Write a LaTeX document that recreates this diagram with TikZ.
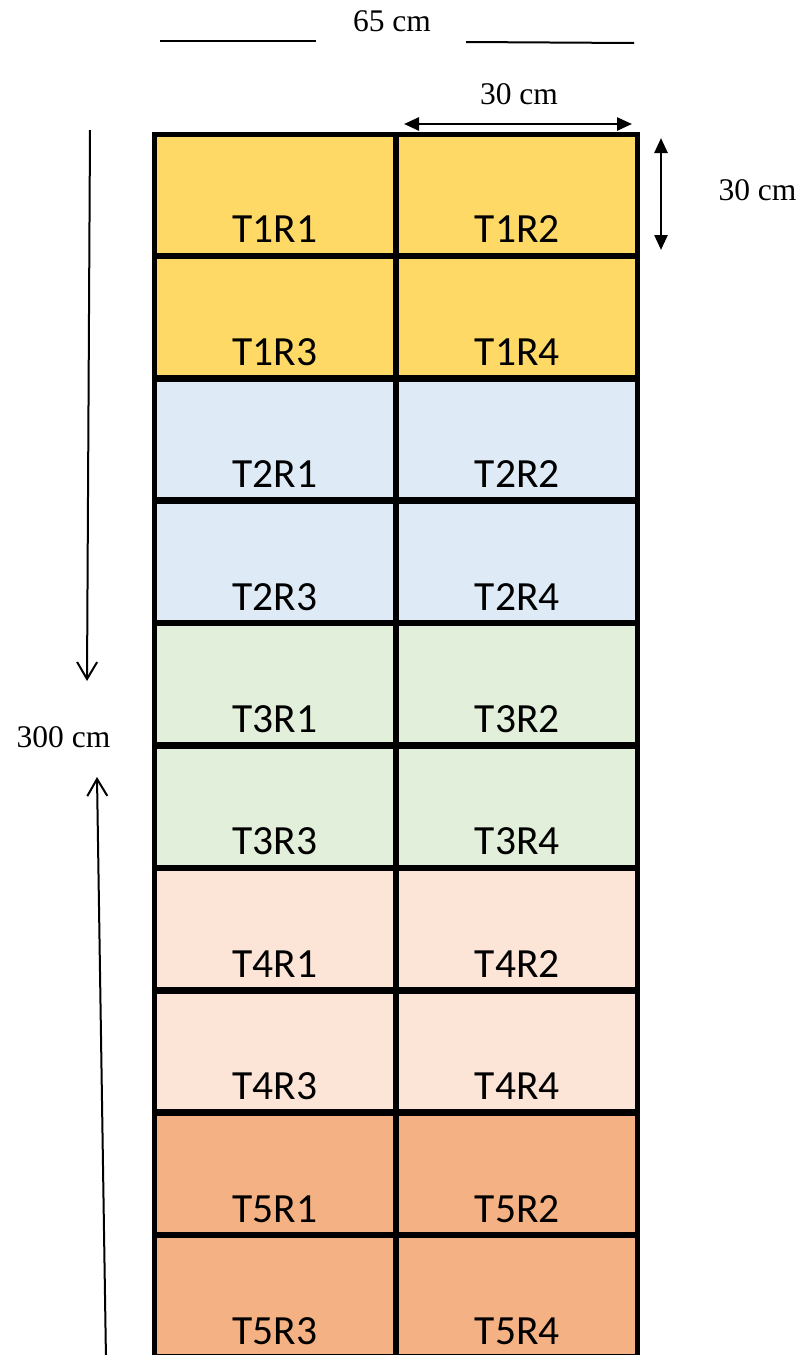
\documentclass[tikz,border=0pt]{standalone}
\usepackage{fontspec}
\setmainfont{Liberation Serif}
\newfontfamily\cellfont{Carlito}
\usetikzlibrary{arrows.meta}
\definecolor{tc1}{HTML}{FFD966}
\definecolor{tc2}{HTML}{DEEBF7}
\definecolor{tc3}{HTML}{E2EFDA}
\definecolor{tc4}{HTML}{FCE4D6}
\definecolor{tc5}{HTML}{F4B183}
\tikzset{
  cellbox/.style={draw=black, line width=5pt, minimum width=241pt, minimum height=120.9pt, inner sep=0pt, outer sep=0pt},
  celltext/.style={font=\cellfont\fontsize{41.5}{41.5}\selectfont, anchor=base, inner sep=0pt},
  dimtext/.style={font=\fontsize{31.5}{31.5}\selectfont, anchor=base, inner sep=0pt},
  dimline/.style={line width=2pt},
  dimarrow/.style={line width=2.5pt, {Triangle[length=15pt,width=13pt]}-{Triangle[length=15pt,width=13pt]}},
  longarrow/.style={line width=2pt, -{Straight Barb[length=17pt,width=20pt,line width=2pt]}}
}
\begin{document}
\begin{tikzpicture}[x=1pt,y=-1pt]
\useasboundingbox (0,0) rectangle (802,1355);
\clip (0,0) rectangle (802,1355);
% cells
\foreach \r in {0,...,9}{
  \foreach \c in {0,1}{
    \pgfmathtruncatemacro{\t}{int(\r/2)+1}
    \pgfmathtruncatemacro{\k}{2*mod(\r,2)+\c+1}
    \pgfmathsetmacro{\cx}{274.75+242.5*\c}
    \pgfmathsetmacro{\cy}{133.5+122.4*(\r+0.5)}
    \pgfmathsetmacro{\by}{133.5+122.4*(\r+1)-13}
    \node[cellbox, fill=tc\t] (cell-\r-\c) at (\cx,\cy) {};
    \node[celltext] (lab-\r-\c) at (\cx,\by) {T\t R\k};
  }
}
% top 65 cm
\node[dimtext] (t65) at (392,31) {65 cm};
\coordinate (l1a) at (160,41);
\coordinate (l1b) at (316,41);
\coordinate (l2a) at (466,42);
\coordinate (l2b) at (634,43);
\draw[dimline] (l1a) -- (l1b);
\draw[dimline] (l2a) -- (l2b);
% 30 cm horizontal
\node[dimtext] (t30h) at (519,104) {30 cm};
\coordinate (h1) at (404,124);
\coordinate (h2) at (632,124);
\draw[dimarrow] (h1) -- (h2);
% 30 cm vertical
\node[dimtext] (t30v) at (757.5,200) {30 cm};
\coordinate (v1) at (661,138);
\coordinate (v2) at (661,250);
\draw[dimarrow] (v1) -- (v2);
% 300 cm
\node[dimtext] (t300) at (63.5,747) {300 cm};
\coordinate (d1) at (90,130);
\coordinate (d2) at (87,681);
\draw[longarrow] (d1) -- (d2);
\coordinate (u1) at (106,1360);
\coordinate (u2) at (97,777);
\draw[longarrow] (u1) -- (u2);
\end{tikzpicture}
\end{document}
